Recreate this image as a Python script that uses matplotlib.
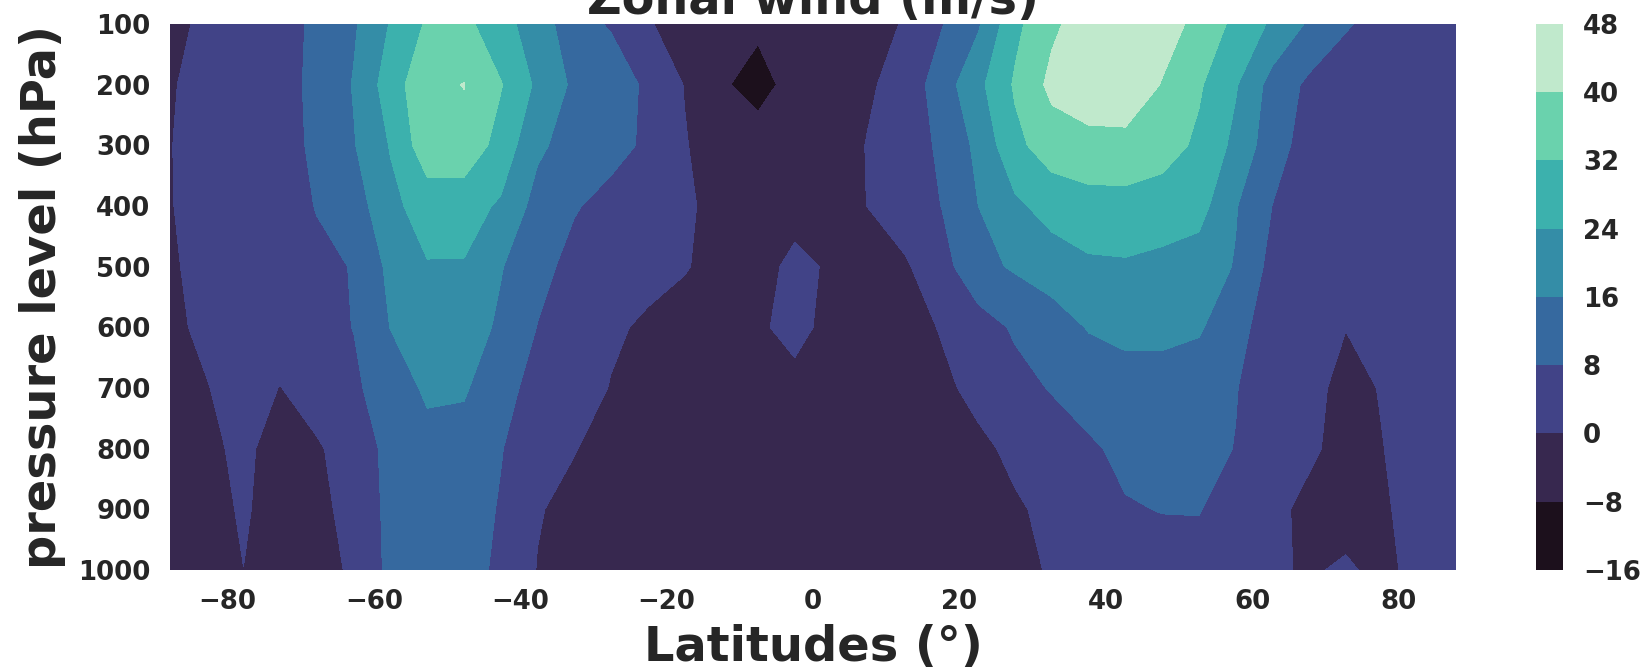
import numpy as np
import matplotlib
matplotlib.use("Agg")
import matplotlib.pyplot as plt
import seaborn as sns

# latitude grid (deg) and pressure levels (hPa)
lats = np.linspace(-87.86, 87.86, 36)
plevs = [100, 200, 300, 400, 500, 600, 700, 800, 900, 1000]

# zonal-mean zonal wind (m/s), one row per pressure level, south -> north
u100 = [-2, 1.5, 4, 7, 8.5, 15, 24.5, 33, 34.5, 26, 21.2, 9.9, 7.5, 1, -5, -6, -7, -5,
        -4, -2, 0.4, 7.5, 15, 30, 38.5, 44, 46, 44, 37.5, 30.1, 22.7, 14.9, 8.5, 6, 5, 4]
u200 = [-0.5, 2, 4, 6.5, 9, 16.5, 28, 38, 40.2, 32.5, 22.5, 14.5, 11, 7, -0.3, -7.3, -10, -6,
        -4, -1, 3, 12, 22, 33, 42, 47, 47, 39.5, 33, 24.7, 13, 6.4, 5, 4.5, 4, 4]
u300 = [-0.2, 2.5, 4, 6, 9, 15.5, 24.5, 37, 37.5, 29, 17.5, 12.5, 10, 7, 0.5, -4, -5.5, -5,
        -4, 0.4, 5, 9, 18, 30, 36, 36.5, 37, 35.5, 30.5, 22, 11.3, 4.7, 4, 4, 4, 4]
u400 = [-0.3, 2.5, 4, 6, 8.2, 12, 22, 27.5, 27, 23, 13, 8.5, 6, 3.5, 1, -2, -4, -1.5,
        -2, 0.1, 4, 8.1, 16, 22.5, 27, 29.5, 29.5, 28, 27, 16.5, 7.9, 4.5, 3.5, 4, 4, 4]
u500 = [-0.8, 2, 4, 5.5, 7, 8.2, 18, 23.5, 23.5, 16.5, 10, 6, 4, 2, 0.5, -2.5, -1.5, 1,
        -0.5, -3, -1, 5, 13.8, 16.9, 20, 22.5, 23, 22, 20, 15.5, 5.5, 3, 3, 3.5, 4, 4]
u600 = [-1.5, 1.5, 3.5, 5, 6.5, 8.1, 16.2, 21, 20.5, 14.5, 7.8, 4, 1, -1, -3, -3, -0.5, 1,
        -1, -4, -3, 0.5, 4.5, 9, 12, 16.5, 18.5, 18.5, 17, 10, 5, 2, 0.1, 2, 3, 3.5]
u700 = [-3, -0.3, 3, -0.2, 4, 7, 11, 17.5, 17, 10, 6, 3, -0.3, -2, -3, -3.5, -2, -1,
        -2.5, -4, -4, -1.5, 2, 5.5, 8.5, 11, 12, 12, 11, 8.3, 4, 1.5, -1.5, 0.3, 2, 3]
u800 = [-4, -1.5, 1.5, -3, -1, 4, 10, 13, 12.5, 8.3, 4, 0.3, -2.5, -3, -4, -4, -3.5, -3,
        -3.5, -4.5, -5, -3.5, -1.5, 1.5, 4, 7, 9.5, 10.5, 10, 7.8, 4, 1, -2, -0.1, 2, 3]
u900 = [-4, -2.5, 0.8, -3, -2, 2.5, 10, 11.5, 11, 7.5, 0.5, -2, -3, -3.5, -4, -4, -3.5, -3,
        -3.5, -4.5, -5, -4.5, -3, -0.8, 1.5, 4, 7.5, 8.2, 8.3, 5, 1.5, -1.5, -3, -0.5, 1.5, 3]
u1000 = [-4, -2, -0.05, -3, -2.5, 1, 10, 12, 11, 6.5, -0.3, -2.5, -3, -3.5, -4, -4, -3.5, -3,
         -3.5, -4.5, -5, -4.5, -3.5, -1.5, 0.5, 3, 5, 5.5, 5.5, 4, 1, -0.8, 1, -2, 2.5, 3]

wind_levels = np.arange(-16, 49, 8)
xticks = [-80, -60, -40, -20, 0, 20, 40, 60, 80]

wind = np.array([u100, u200, u300, u400, u500, u600, u700, u800, u900, u1000])

plt.rcParams['font.family'] = ['DejaVu Sans']
plt.rcParams['font.weight'] = 'bold'
plt.rcParams['axes.labelweight'] = 'bold'
plt.rcParams['axes.titleweight'] = 'bold'
plt.rcParams['text.color'] = '0.15'
plt.rcParams['axes.labelcolor'] = '0.15'
plt.rcParams['xtick.color'] = '0.15'
plt.rcParams['ytick.color'] = '0.15'

fig = plt.figure(figsize=(16.46, 6.70), dpi=100)
ax = fig.add_axes([0.1033, 0.1493, 0.7813, 0.8149])
cax = fig.add_axes([0.9330, 0.1493, 0.0168, 0.8149])

cmap = sns.color_palette("mako", as_cmap=True)
cf = ax.contourf(lats, plevs, wind, levels=wind_levels, cmap=cmap)
ax.set_ylim(1000, 100)
ax.set_yticks(plevs)
ax.set_xticks(xticks)
ax.tick_params(length=0, pad=14, labelsize=18.7)
for s in ax.spines.values():
    s.set_visible(False)

ax.set_xlabel("Latitudes (°)", fontsize=34.5, labelpad=6)
ax.set_ylabel("pressure level (hPa)", fontsize=34.5, labelpad=9)
ax.set_title("Zonal wind (m/s)", fontsize=34.5, pad=7)

cbar = fig.colorbar(cf, cax=cax, ticks=wind_levels)
cbar.outline.set_visible(False)
cbar.ax.tick_params(length=0, pad=14, labelsize=18.7)

fig.savefig("out.png", dpi=100)
